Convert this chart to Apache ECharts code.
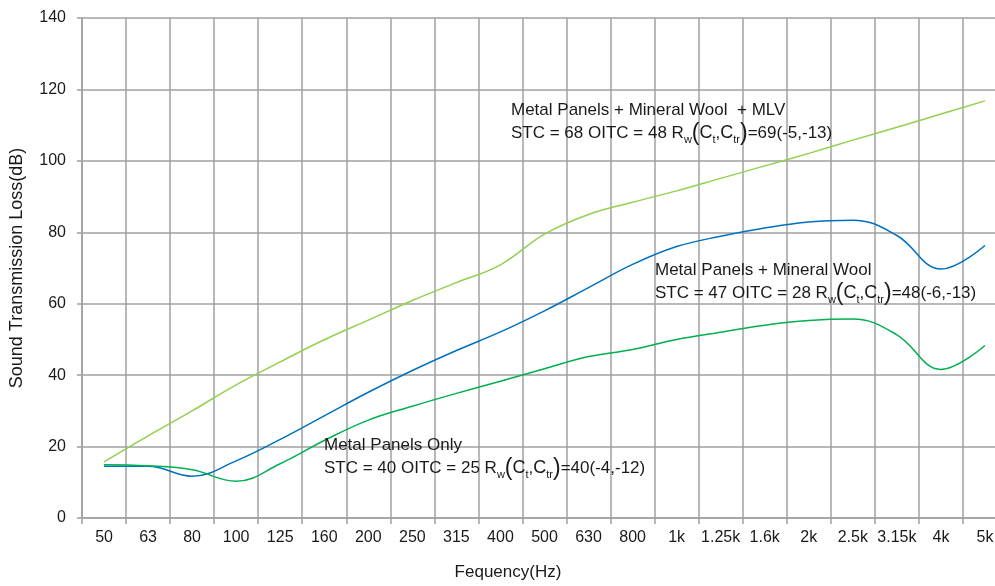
<!DOCTYPE html>
<html>
<head>
<meta charset="utf-8">
<script src="https://cdn.jsdelivr.net/npm/echarts@6/dist/echarts.min.js"></script>
<style>
html,body{margin:0;padding:0;background:#fff;overflow:hidden;width:995px;height:586px;}
#chart{width:1010px;height:586px;}
</style>
</head>
<body>
<div id="chart"></div>
<script>
const categories = ['50','63','80','100','125','160','200','250','315','400','500','630','800','1k','1.25k','1.6k','2k','2.5k','3.15k','4k','5k'];
const yTicks = [0, 20, 40, 60, 80, 100, 120, 140];
const seriesNames = ['Metal Panels + Mineral Wool + MLV', 'Metal Panels + Mineral Wool', 'Metal Panels Only'];
const mlvValues = [15.7,23.0,30.0,37.3,43.7,49.9,55.4,60.9,65.9,70.9,79.5,85.0,88.4,91.6,95.1,98.6,102.1,105.8,109.4,113.1,116.8];
const woolValues = [14.5,14.5,11.7,16.0,22.0,28.6,35.2,41.3,46.9,52.1,58.0,64.5,71.0,76.0,78.9,81.2,82.9,83.4,79.1,69.7,76.3];
const panelValues = [14.9,14.6,13.5,10.3,15.2,21.7,27.4,31.3,34.9,38.3,41.8,45.2,47.2,50.0,52.0,54.0,55.3,55.7,51.3,41.6,48.3];

const FONT = "'Liberation Sans', Arial, sans-serif";
const GRID = '#a0a0a0';
const TXT = '#1a1a1a';

const rich = {
  w: { fontSize: 11, fontFamily: FONT, fill: TXT, color: TXT, verticalAlign: 'bottom', lineHeight: 13 },
  s: { fontSize: 11, fontFamily: FONT, fill: TXT, color: TXT, verticalAlign: 'bottom', lineHeight: 13 },
  c: { fontSize: 18, fontFamily: FONT, fill: TXT, color: TXT, lineHeight: 23 },
  p: { fontSize: 23, fontFamily: FONT, fill: TXT, color: TXT, lineHeight: 23 }
};
function rw(val) {
  return 'R{w|w}{p|(}{c|C}{s|t},{c|C}{s|tr}{p|)}' + val;
}
function note(left, top, line1, line2) {
  return {
    type: 'text', left: left, top: top, z: 10,
    style: {
      text: line1 + '\n' + line2,
      fontSize: 17, fontFamily: FONT, fill: TXT, lineHeight: 23,
      rich: rich
    }
  };
}

const chart = echarts.init(document.getElementById('chart'));
chart.setOption({
  animation: false,
  backgroundColor: '#fff',
  grid: { left: 80, right: 3, top: 18, bottom: 65 },
  xAxis: {
    type: 'category',
    data: categories,
    boundaryGap: true,
    name: 'Fequency(Hz)',
    nameLocation: 'middle',
    nameGap: 46,
    nameTextStyle: { fontSize: 17, fontFamily: FONT, color: TXT, padding: [0, 73, 0, 0] },
    axisLine: { show: true, lineStyle: { color: GRID, width: 1.5 } },
    axisTick: { show: true, length: 6, interval: 0, lineStyle: { color: GRID, width: 1.5 } },
    axisLabel: { fontSize: 16, fontFamily: FONT, color: TXT, margin: 12, interval: 0 },
    splitLine: { show: true, interval: 0, lineStyle: { color: GRID, width: 1.5 } }
  },
  yAxis: {
    type: 'value',
    min: yTicks[0], max: yTicks[yTicks.length - 1], interval: 20,
    name: 'Sound Transmission Loss(dB)',
    nameLocation: 'middle',
    nameGap: 56,
    nameTextStyle: { fontSize: 18, fontFamily: FONT, color: TXT },
    axisLine: { show: true, lineStyle: { color: GRID, width: 1.5 } },
    axisTick: { show: true, length: 5, lineStyle: { color: GRID, width: 1.5 } },
    axisLabel: { fontSize: 16, fontFamily: FONT, color: TXT, margin: 16 },
    splitLine: { show: true, lineStyle: { color: GRID, width: 1.5 } }
  },
  series: [
    { name: seriesNames[0], type: 'line', data: mlvValues, smooth: 0.4, showSymbol: false, lineStyle: { color: '#92d050', width: 1.5 }, itemStyle: { color: '#92d050' } },
    { name: seriesNames[1], type: 'line', data: woolValues, smooth: 0.4, showSymbol: false, lineStyle: { color: '#0070c0', width: 1.5 }, itemStyle: { color: '#0070c0' } },
    { name: seriesNames[2], type: 'line', data: panelValues, smooth: 0.4, showSymbol: false, lineStyle: { color: '#00b050', width: 1.5 }, itemStyle: { color: '#00b050' } }
  ],
  graphic: [
    note(511, 99, 'Metal Panels + Mineral Wool  + MLV', 'STC = 68 OITC = 48 ' + rw('=69(-5,-13)')),
    note(655, 259, 'Metal Panels + Mineral Wool', 'STC = 47 OITC = 28 ' + rw('=48(-6,-13)')),
    note(324, 434, 'Metal Panels Only', 'STC = 40 OITC = 25 ' + rw('=40(-4,-12)'))
  ]
});
</script>
</body>
</html>
